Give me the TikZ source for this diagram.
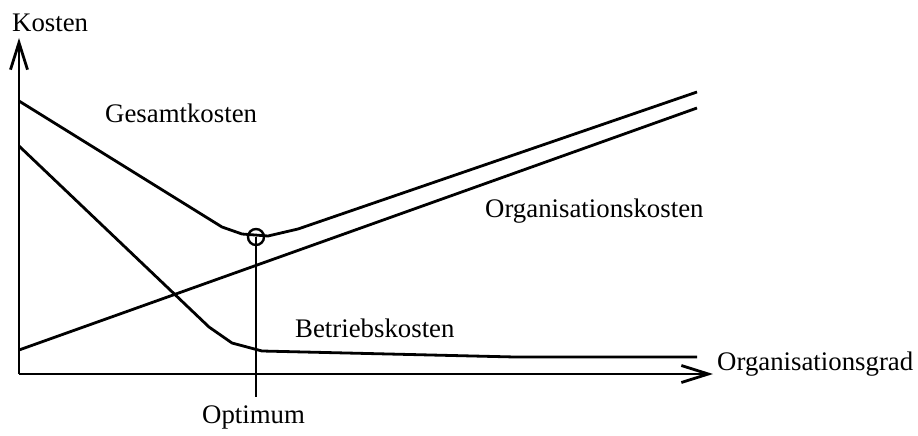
\documentclass[tikz,border=0pt]{standalone}
\usepackage{fontspec}
\setmainfont{Liberation Serif}
\usetikzlibrary{arrows.meta}
\begin{document}
\begin{tikzpicture}[x=1pt,y=-1pt,
  curve/.style={line width=2.8pt,line join=round},
  axis/.style={line width=2.8pt,-{Straight Barb[length=27pt,width=17pt,line width=2.8pt]}},
  label/.style={anchor=base west,inner sep=0pt,font=\fontsize{26.8}{30}\selectfont}]
\useasboundingbox (0,0) rectangle (918,436);
% axes
\coordinate (origin) at (19,374);
\coordinate (ytip) at (19,38);
\coordinate (xtip) at (713,374);
\draw[axis] (origin) -- (ytip);
\draw[axis] (origin) -- (xtip);
\node[label] (kosten) at (12,32) {Kosten};
\node[label] (grad) at (717,370) {Organisationsgrad};
% Organisationskosten
\coordinate (ok0) at (19,350);
\coordinate (ok1) at (697,108);
\draw[curve] (ok0) -- (ok1);
% Gesamtkosten
\coordinate (gk0) at (19,101);
\coordinate (opt) at (256,237);
\draw[curve] (gk0) -- (222,227) -- (242,234) -- (268,236) -- (298,229) -- (697,92);
% Betriebskosten
\coordinate (bk0) at (19,146);
\draw[curve] (bk0) -- (209,327) -- (232,343) -- (262,351) -- (515,357) -- (697,357);
% optimum marker
\coordinate (optfoot) at (256,397);
\draw[line width=2.4pt] (opt) circle[radius=8];
\draw[line width=2.8pt] (opt) -- (optfoot);
% labels
\node[label] (gk) at (105,122) {Gesamtkosten};
\node[label] (ok) at (485,217) {Organisationskosten};
\node[label] (bk) at (295,337) {Betriebskosten};
\node[label] (optimum) at (202,423) {Optimum};
\end{tikzpicture}
\end{document}
